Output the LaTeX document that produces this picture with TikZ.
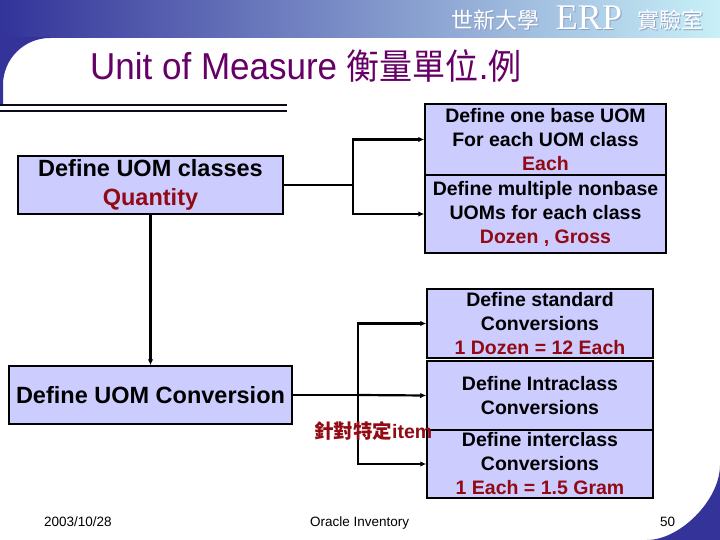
\documentclass[tikz,border=0pt]{standalone}
\usepackage{fontspec}
\setmainfont{Liberation Sans}
\newfontfamily\cjk{Noto Sans CJK TC}
\newfontfamily\serifer{Liberation Serif}
\usetikzlibrary{arrows.meta}
\definecolor{boxfill}{RGB}{204,204,255}
\definecolor{dred}{RGB}{145,10,20}
\definecolor{ttl}{RGB}{102,0,102}
\definecolor{navy}{RGB}{51,51,153}
\definecolor{cyanl}{RGB}{200,240,248}
\definecolor{hshadow}{RGB}{140,160,195}
\begin{document}
\begin{tikzpicture}[x=1pt,y=-1pt,
  boxbase/.style={draw=black, line width=1.5pt, fill=boxfill, inner sep=0pt, align=center},
  lbox/.style={boxbase, font=\bfseries\fontsize{23.5}{29}\selectfont},
  rbox/.style={boxbase, font=\bfseries\fontsize{19.5}{24}\selectfont},
  conn/.style={line width=2.2pt},
  arr/.style={conn, -{Latex[length=6pt,width=5.5pt]}},
  foot/.style={font=\fontsize{13.5}{15}\selectfont, anchor=base west, inner sep=0pt}]
\useasboundingbox (0,0) rectangle (720,540);
\fill[white] (0,0) rectangle (720,540);
% header band
\shade[left color=navy, right color=cyanl] (0,0) rectangle (720,38);
\fill[navy] (0,37) -- (0,104) -- (3,104) -- (3,85) .. controls (3,59) and (24,38) .. (50,38) -- (50,37) -- cycle;
% bottom right corner
\fill[navy] (647,540) .. controls (680,540) and (720,500) .. (720,465) -- (720,540) -- cycle;
% lines under title
\draw[line width=1.1pt, black!80!navy] (0,105) -- (287,105);
\draw[line width=1.1pt, black!80!navy] (0,111) -- (287,111);
% header text
\node[anchor=base, inner sep=0pt, text=hshadow, font=\cjk\fontsize{22}{22}\selectfont] at (496,30) {世新大學};
\node[anchor=base, inner sep=0pt, text=white, font=\cjk\fontsize{22}{22}\selectfont] (h1) at (495,29) {世新大學};
\node[anchor=base, inner sep=0pt, text=hshadow, font=\serifer\fontsize{36}{36}\selectfont] at (590,31) {ERP};
\node[anchor=base, inner sep=0pt, text=white, font=\serifer\fontsize{36}{36}\selectfont] (h2) at (589,30) {ERP};
\node[anchor=base, inner sep=0pt, text=hshadow, font=\cjk\fontsize{22}{22}\selectfont] at (671,30) {實驗室};
\node[anchor=base, inner sep=0pt, text=white, font=\cjk\fontsize{22}{22}\selectfont] (h3) at (670,29) {實驗室};
% title
\node[anchor=base west, inner sep=0pt, text=ttl, font=\fontsize{35}{40}\selectfont, yscale=1.07, transform shape] (title) at (90,80) {Unit of Measure {\cjk\fontsize{33}{40}\selectfont 衡量單位}.{\cjk\fontsize{33}{40}\selectfont 例}};
% boxes
\node[lbox, minimum width=265pt, minimum height=58pt] (cls) at (150.5,185) {Define UOM classes\\\textcolor{dred}{Quantity}};
\node[lbox, minimum width=283pt, minimum height=58pt] (conv) at (150.5,395) {Define UOM Conversion};
\node[rbox, minimum width=241pt, minimum height=71pt] (base) at (545.5,139.5) {Define one base UOM\\For each UOM class\\\textcolor{dred}{Each}};
\node[rbox, minimum width=241pt, minimum height=78pt] (nonbase) at (545.5,214) {Define multiple nonbase\\UOMs for each class\\\textcolor{dred}{Dozen , Gross}};
\node[rbox, minimum width=226pt, minimum height=69pt] (std) at (540,323.5) {Define standard\\Conversions\\\textcolor{dred}{1 Dozen = 12 Each}};
\node[rbox, minimum width=226pt, minimum height=69pt] (intra) at (540,395.5) {Define Intraclass\\Conversions};
\node[rbox, minimum width=226pt, minimum height=68pt] (inter) at (540,464) {Define interclass\\Conversions\\\textcolor{dred}{1 Each = 1.5 Gram}};
% connectors
\coordinate (j1) at (353,185);
\draw[conn] (cls.east) -- (j1);
\draw[arr] (j1) |- (base.west);
\draw[arr] (j1) |- (nonbase.west);
\draw[arr] (cls.south) -- (conv.north);
\coordinate (j2) at (358,395);
\draw[conn] (conv.east) -- (j2);
\draw[arr] (j2) |- (std.west);
\draw[arr] (j2) -- (intra.west);
\draw[arr] (j2) |- (inter.west);
% label
\node[anchor=base west, inner sep=0pt, text=dred, font=\bfseries\fontsize{19.5}{22}\selectfont] (lbl) at (314,438) {{\cjk\bfseries 針對特定}item};
% footer
\node[foot] (date) at (44,526) {2003/10/28};
\node[foot] (src) at (310,526) {Oracle Inventory};
\node[foot] (pg) at (660,526) {50};
\end{tikzpicture}
\end{document}
